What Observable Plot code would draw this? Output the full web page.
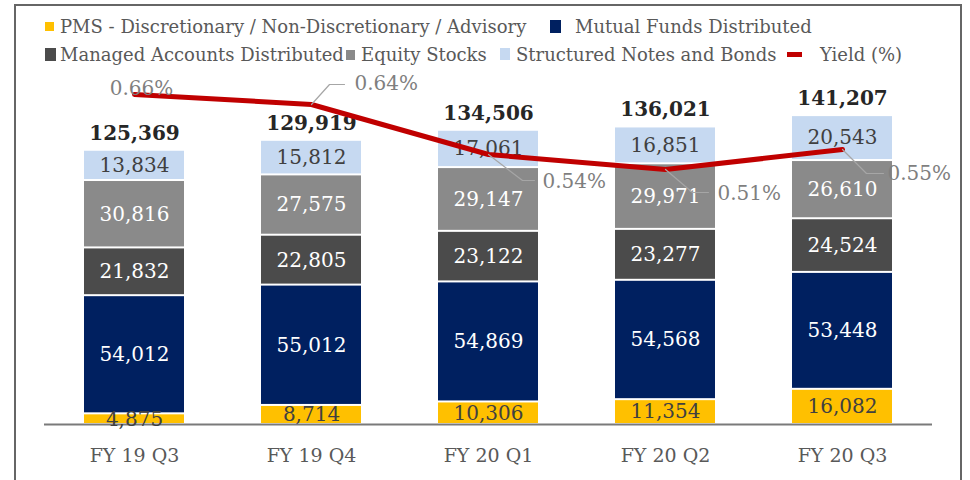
<!DOCTYPE html>
<html><head><meta charset="utf-8">
<script src="https://cdn.jsdelivr.net/npm/d3@7"></script>
<script src="https://cdn.jsdelivr.net/npm/@observablehq/plot@0.6"></script>
<style>
body{margin:0;width:970px;height:480px;overflow:hidden;background:#fff;font-family:"DejaVu Serif",serif;}
#wrap{position:relative;width:970px;height:480px;overflow:hidden;}
#frame{position:absolute;left:14px;top:4px;width:948px;height:540px;border:2px solid #666;box-sizing:border-box;}
#chart{position:absolute;left:0;top:0;}
.lg{position:absolute;font-size:18px;line-height:18px;color:#595959;white-space:nowrap;}
.mk{position:absolute;}
</style></head><body>
<div id="wrap"><div id="frame"></div><div id="chart"></div><div id="legend"></div></div>
<script>
// ---- data ----
const categories = ["FY 19 Q3", "FY 19 Q4", "FY 20 Q1", "FY 20 Q2", "FY 20 Q3"];
const seriesNames = ["PMS - Discretionary / Non-Discretionary / Advisory", "Mutual Funds Distributed", "Managed Accounts Distributed", "Equity Stocks", "Structured Notes and Bonds"];
const pms = [4875, 8714, 10306, 11354, 16082];
const mutualFunds = [54012, 55012, 54869, 54568, 53448];
const managedAccounts = [21832, 22805, 23122, 23277, 24524];
const equityStocks = [30816, 27575, 29147, 29971, 26610];
const structuredNotes = [13834, 15812, 17061, 16851, 20543];
const totals = [125369, 129919, 134506, 136021, 141207];
const yieldPct = [0.66, 0.64, 0.54, 0.51, 0.55];
const yieldName = "Yield (%)";

// ---- styles ----
const colors = ["#FFC000", "#002060", "#4B4B4B", "#8A8A8A", "#C6D9F1"];
const labelColors = ["#404040", "#ffffff", "#ffffff", "#ffffff", "#404040"];
const yieldColor = "#C00000";
const Y_MAX = 160000, YIELD_MAX = 0.7; // primary and secondary axis maxima
const K = Y_MAX / YIELD_MAX;
// label placement for yield data labels (pixel offsets from point) and leader shapes
const yieldLabelPlacement = [
  {dx: 7, dy: -6, anchor: "middle"},
  {dx: 43, dy: -21, anchor: "start", leader: [18, -20, 15]},
  {dx: 54, dy: 27, anchor: "start", leader: [34, 26, 12]},
  {dx: 52, dy: 24, anchor: "start", leader: [27, 23, 16]},
  {dx: 45, dy: 24, anchor: "start", leader: [24, 24, 17]}
];

const seriesValues = [pms, mutualFunds, managedAccounts, equityStocks, structuredNotes];
const fmt = d3.format(",");
const segs = [];
categories.forEach((c, i) => {
  let acc = 0;
  seriesValues.forEach((vals, s) => {
    segs.push({cat: c, s, y1: acc, y2: acc + vals[i], v: vals[i]});
    acc += vals[i];
  });
});
const totalRows = categories.map((c, i) => ({cat: c, total: totals[i], top: seriesValues.reduce((a, v) => a + v[i], 0)}));
const yieldRows = categories.map((c, i) => ({cat: c, y: yieldPct[i], i}));

const yieldMarks = [];
yieldRows.forEach((r, i) => {
  const p = yieldLabelPlacement[i];
  if (p.leader) {
    const [a, b, h] = p.leader;
    yieldMarks.push(Plot.vector([r], {
      x: "cat", y: d => d.y * K, anchor: "start", length: 1,
      shape: {draw(ctx) { ctx.moveTo(0, 0); ctx.lineTo(a, b); ctx.lineTo(a + h, b); }},
      stroke: "#A6A6A6", strokeWidth: 1.2
    }));
  }
  yieldMarks.push(Plot.text([r], {
    x: "cat", y: d => d.y * K, text: d => d.y.toFixed(2) + "%",
    dx: p.dx, dy: p.dy, textAnchor: p.anchor, fill: "#7F7F7F", fontSize: 20
  }));
});

const chart = Plot.plot({
  width: 970, height: 480,
  marginLeft: 44, marginRight: 38, marginTop: 74, marginBottom: 56,
  style: {fontFamily: "DejaVu Serif", background: "transparent"},
  x: {domain: categories, paddingInner: 0.437, paddingOuter: 0.2185, axis: null},
  y: {domain: [0, Y_MAX], axis: null},
  color: {type: "identity"},
  marks: [
    Plot.barY(segs, {x: "cat", y1: "y1", y2: "y2", fill: d => colors[d.s], insetTop: 1, insetBottom: 1}),
    Plot.ruleY([0], {stroke: "#7A7A7A", strokeWidth: 2}),
    Plot.text(segs, {x: "cat", y: d => (d.y1 + d.y2) / 2, text: d => fmt(d.v), fill: d => labelColors[d.s], fontSize: 20}),
    Plot.text(totalRows, {x: "cat", y: "top", text: d => fmt(d.total), dy: -17, fontWeight: "bold", fontSize: 20, fill: "#262626"}),
    Plot.line(yieldRows, {x: "cat", y: d => d.y * K, stroke: yieldColor, strokeWidth: 5}),
    ...yieldMarks,
    Plot.axisX({tickSize: 0, tickPadding: 24, fontSize: 19, color: "#595959", label: null})
  ]
});
document.getElementById("chart").appendChild(chart);

// ---- legend ----
const legendItems = [
  {name: seriesNames[0], color: colors[0], mx: 45, my: 22, mw: 9, mh: 9, tx: 60, ty: 18},
  {name: seriesNames[1], color: colors[1], mx: 550, my: 20, mw: 11, mh: 13, tx: 575, ty: 18},
  {name: seriesNames[2], color: colors[2], mx: 45, my: 48, mw: 11, mh: 13, tx: 60, ty: 46},
  {name: seriesNames[3], color: colors[3], mx: 346, my: 50, mw: 9, mh: 10, tx: 361, ty: 46},
  {name: seriesNames[4], color: colors[4], mx: 500, my: 48, mw: 10, mh: 12, tx: 516, ty: 46},
  {name: yieldName, color: yieldColor, mx: 787, my: 52, mw: 15, mh: 5, tx: 820, ty: 46}
];
const lg = document.getElementById("legend");
legendItems.forEach(it => {
  const m = document.createElement("div");
  m.className = "mk";
  Object.assign(m.style, {left: it.mx + "px", top: it.my + "px", width: it.mw + "px", height: it.mh + "px", background: it.color});
  lg.appendChild(m);
  const t = document.createElement("div");
  t.className = "lg";
  Object.assign(t.style, {left: it.tx + "px", top: it.ty + "px"});
  t.textContent = it.name;
  lg.appendChild(t);
});
</script>
</body></html>
